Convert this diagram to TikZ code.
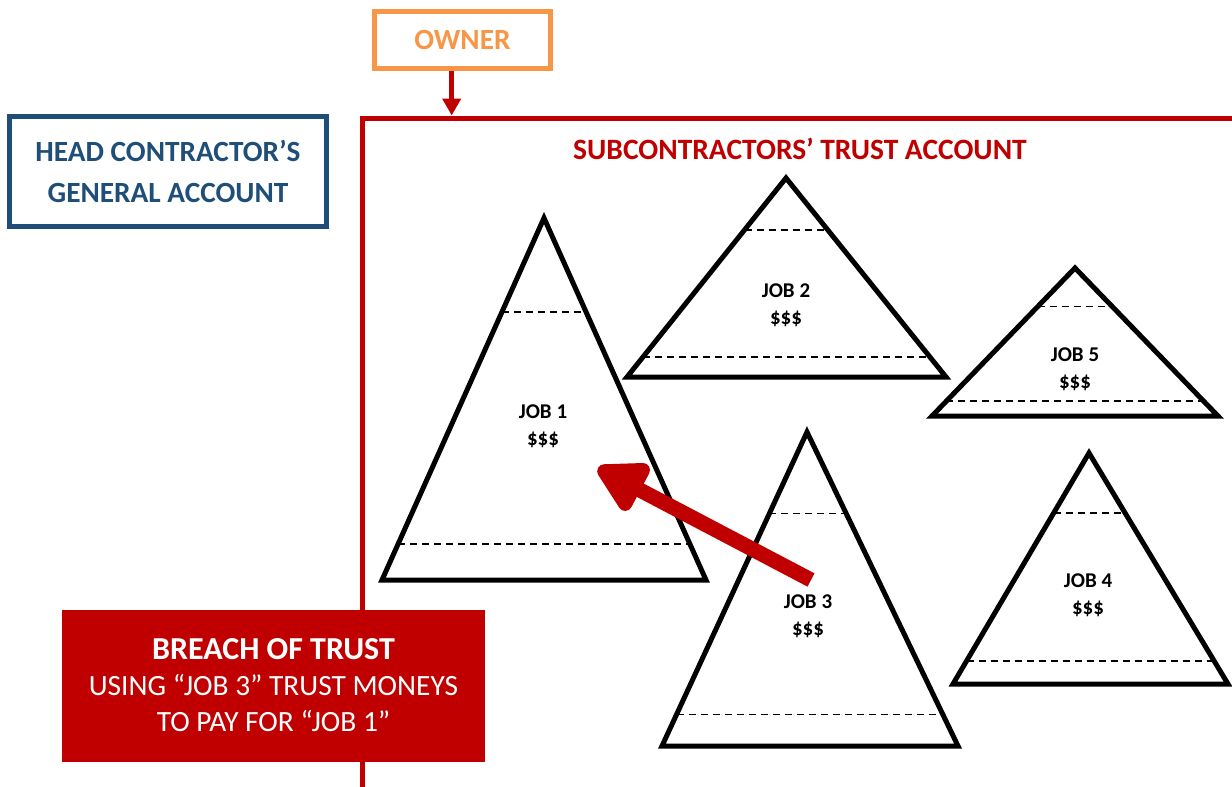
\documentclass[tikz,border=0pt]{standalone}
\usepackage{fontspec}
\setmainfont{Carlito}
\usetikzlibrary{arrows.meta,calc}

\definecolor{ownerorange}{HTML}{F79646}
\definecolor{headblue}{HTML}{1F4E79}
\definecolor{trustred}{HTML}{C00000}

\tikzset{
  accountbox/.style={draw, line width=5pt, align=center, inner sep=0pt,
    font=\fontsize{29.3}{41}\selectfont\bfseries},
  jobtri/.style={draw=black, line width=5pt, line join=miter},
  jobcut/.style={draw=black, line width=1.6pt, dash pattern=on 7pt off 5pt},
  joblabel/.style={align=center, inner sep=0pt, font=\fontsize{21}{27}\selectfont\bfseries},
}

\begin{document}
\begin{tikzpicture}[x=1pt,y=-1pt]
\useasboundingbox (0,0) rectangle (1232,787);

% the trust account (open to the right and below)
\draw[trustred, line width=5pt] (362.5,787) -- (362.5,118) -- (1232,118);
\coordinate (trusttop) at (451.7,115.5);
\node[trustred, font=\fontsize{29.5}{34}\selectfont\bfseries] (trustname) at (800,149) {SUBCONTRACTORS’ TRUST ACCOUNT};

% owner pays into the trust account
\node[accountbox, draw=ownerorange, text=ownerorange, minimum width=176pt, minimum height=57pt] (owner) at (462.5,40) {OWNER};
\draw[trustred, line width=5pt, -{Triangle[length=17pt,width=18pt]}] (owner.south -| trusttop) -- (trusttop);

% head contractor's own account
\node[accountbox, draw=headblue, text=headblue, minimum width=317pt, minimum height=110pt] (head) at (168,171) {HEAD CONTRACTOR’S\\GENERAL ACCOUNT};

% the jobs
\foreach \n/\ax/\ay/\lx/\rx/\by/\cx/\cy in {
    1/544/218/382/706/580/543/426,
    2/786/178/627/946/377/786/305,
    5/1075/268/932/1218/416/1075/369,
    3/807/432/662/958/746/808/616,
    4/1089/453/953/1228/684/1088/595}{
  \coordinate (apex\n) at (\ax,\ay);
  \coordinate (bl\n) at (\lx,\by);
  \coordinate (br\n) at (\rx,\by);
  \draw[jobtri] (apex\n) -- (bl\n) -- (br\n) -- cycle;
  \draw[jobcut] ($(apex\n)!0.26!(bl\n)$) -- ($(apex\n)!0.26!(br\n)$);
  \draw[jobcut] ($(apex\n)!0.9!(bl\n)$) -- ($(apex\n)!0.9!(br\n)$);
  \node[joblabel] (job\n) at (\cx,\cy) {JOB \n\\\$\$\$};
}

% money moved from job 3 to job 1
\coordinate (moneyfrom) at (811,580);
\coordinate (moneyto) at (598,468);
\draw[trustred, line width=15pt, -{Triangle[length=56pt,width=58pt,round]}] (moneyfrom) -- (moneyto);

% breach
\node[fill=trustred, text=white, minimum width=423pt, minimum height=152pt, inner sep=0pt,
  align=center, font=\fontsize{29.4}{36}\selectfont] (breach) at (273.5,685.5)
  {{\fontsize{32}{36}\selectfont\bfseries BREACH OF TRUST}\\USING “JOB 3” TRUST MONEYS\\TO PAY FOR “JOB 1”};

\end{tikzpicture}
\end{document}
